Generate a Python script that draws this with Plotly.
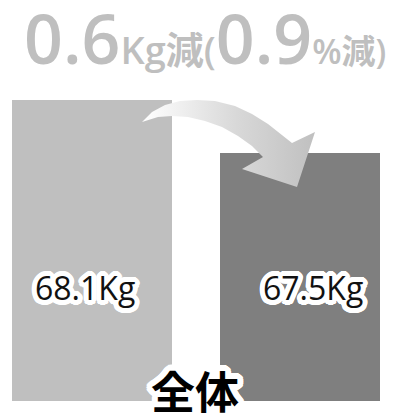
import math
import plotly.graph_objects as go

# Body weight before / after (kg)
periods = ["前", "後"]
weights = [68.1, 67.5]
bar_colors = ["#bfbfbf", "#7f7f7f"]
group_label = "全体"
axis_floor = 64.7

diff = weights[0] - weights[1]
pct = diff / weights[0] * 100

W, H = 398, 419
PLOT_L, PLOT_R, PLOT_T, PLOT_B = 8, 384, 100, 401


def px_to_paper_x(px):
    return (px - PLOT_L) / (PLOT_R - PLOT_L)


def px_to_paper_y(py):
    return (PLOT_B - py) / (PLOT_B - PLOT_T)


def make_halo(radii, blur):
    parts = []
    for r in radii:
        for a in range(0, 360, 15):
            parts.append(f"{r*math.cos(math.radians(a)):.1f}px {r*math.sin(math.radians(a)):.1f}px {blur}px #fff")
    return ", ".join(parts)


FONT = "Open Sans, Noto Sans CJK JP, sans-serif"

fig = go.Figure()
fig.add_trace(go.Bar(
    x=periods, y=weights, marker=dict(color=bar_colors, line=dict(width=0)),
    width=0.766, hoverinfo="skip", showlegend=False,
))

# curved arrow (decoration) in pixel space of the overlay axes
arrow_x = [142, 152, 165, 180, 197, 215, 235, 252, 268, 282, 292, 315, 297, 242, 263,
           252, 238, 222, 205, 188, 172, 158, 142]
arrow_y = [122, 112, 105, 101, 100, 101, 106, 114, 124, 135, 143, 132, 187, 169, 157,
           146, 136, 127, 121, 117, 116, 117, 122]
fig.add_trace(go.Scatter(
    x=arrow_x, y=arrow_y, xaxis="x2", yaxis="y2", mode="lines",
    line=dict(width=0), fill="toself",
    fillgradient=dict(type="horizontal", colorscale=[[0, "#ffffff"], [0.55, "#d8d8d8"], [1, "#c0c0c0"]]),
    hoverinfo="skip", showlegend=False,
))

annotations = []
label_pos = [(85, 287), (313, 287)]
for w, (px, py) in zip(weights, label_pos):
    annotations.append(dict(
        x=px_to_paper_x(px), y=px_to_paper_y(py), xref="paper", yref="paper", showarrow=False,
        text=f"{w:.1f}Kg",
        font=dict(family=FONT, size=32, weight=500, color="#111", shadow=make_halo([2, 3.5, 5], 0.5)),
        xanchor="center", yanchor="middle",
    ))

annotations.append(dict(
    x=px_to_paper_x(195), y=px_to_paper_y(390), xref="paper", yref="paper", showarrow=False,
    text=f"<b>{group_label}</b>",
    font=dict(family="Noto Sans CJK JP, sans-serif", size=44, color="#000", shadow=make_halo([2, 4, 6], 0.5)),
    xanchor="center", yanchor="middle",
))

title_text = (
    f"{diff:.1f}"
    f"<span style='font-size:38px'>Kg減(</span>"
    f"{pct:.1f}"
    f"<span style='font-size:34px'>%減)</span>"
)
annotations.append(dict(
    x=px_to_paper_x(205), y=px_to_paper_y(37), xref="paper", yref="paper", showarrow=False,
    text=title_text,
    font=dict(family=FONT, size=68, weight=600, color="#bfbfbf"),
    xanchor="center", yanchor="middle",
))

fig.update_layout(
    width=W, height=H,
    margin=dict(l=PLOT_L, r=W - PLOT_R, t=PLOT_T, b=H - PLOT_B, pad=0),
    paper_bgcolor="white", plot_bgcolor="white",
    bargap=0,
    xaxis=dict(type="category", range=[-0.4, 1.4], visible=False, fixedrange=True),
    yaxis=dict(range=[axis_floor, weights[0]], visible=False, fixedrange=True),
    xaxis2=dict(overlaying="x", range=[PLOT_L, PLOT_R], visible=False, anchor="y2"),
    yaxis2=dict(overlaying="y", range=[PLOT_B, PLOT_T], visible=False, anchor="x2"),
    annotations=annotations,
)

fig.write_html("out.html")
